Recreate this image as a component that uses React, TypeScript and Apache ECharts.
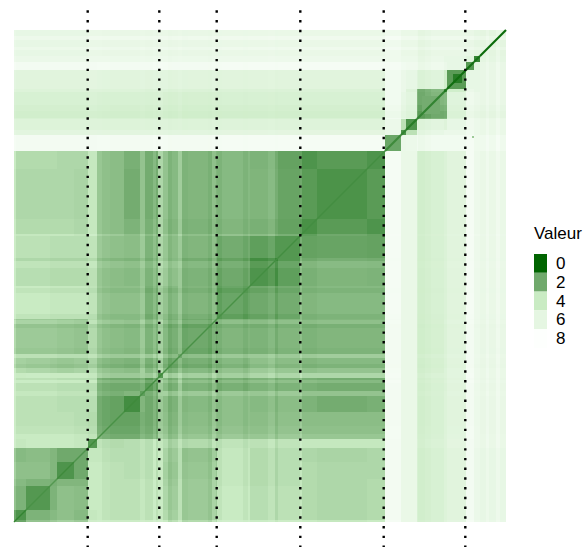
import React, { useEffect, useRef } from "react";
import * as echarts from "echarts";

// Group edges along the ordered rank axis of the symmetric matrix
const edges = [0,12,36,43,60,74,83,110,126,131,144,149,164,168,203,236,264,286,303,353,371,387,392,403,430,433,452,460,466,492];

// Lower triangle of the symmetric matrix, by group
const lowerTriangle = [
  [1.4],
  [2.3,1.5],
  [2.5,2.3,2.2],
  [2.7,2.7,2.4,1.4],
  [2.5,2.6,2.4,2.0,2.0],
  [3.9,4.0,4.0,4.0,3.9,1.5],
  [3.7,3.7,3.7,3.7,3.6,3.5,1.8],
  [3.7,3.7,3.7,3.6,3.6,3.6,1.8,1.2],
  [3.9,3.9,3.9,3.8,3.8,3.8,2.2,2.4,1.7],
  [3.7,3.7,3.7,3.6,3.6,3.6,2.0,2.0,2.2,1.6],
  [4.0,4.1,4.0,4.0,4.0,3.9,3.0,3.0,3.2,3.0,1.5],
  [3.2,3.1,3.0,2.9,3.0,3.3,2.4,2.3,2.9,2.2,3.2,2.0],
  [3.7,3.7,3.7,3.6,3.6,3.8,3.0,3.0,3.3,3.0,3.6,2.6,2.0],
  [3.0,3.0,3.0,2.9,2.8,3.5,2.6,2.5,3.0,2.3,3.2,2.2,2.7,2.0],
  [4.0,4.0,3.9,3.9,3.9,3.8,2.7,2.7,3.0,2.2,3.2,2.5,3.0,2.4,1.9],
  [3.6,3.6,3.5,3.5,3.5,3.7,2.6,2.5,2.9,2.3,3.4,2.7,3.0,2.3,2.0,1.4],
  [3.7,3.7,3.6,3.6,3.6,3.8,2.7,2.6,3.0,2.3,3.4,2.6,3.0,2.4,2.1,1.7,1.5],
  [3.5,3.5,3.5,3.5,3.4,3.9,2.6,2.3,2.8,2.2,3.4,2.4,3.0,2.3,2.4,2.2,1.8,1.3],
  [3.4,3.4,3.4,3.4,3.3,3.9,2.6,2.1,2.8,2.1,3.4,2.5,3.1,2.4,2.5,2.35,1.85,1.6,1.35],
  [3.5,3.5,3.5,3.4,3.4,3.9,2.6,2.2,2.8,2.1,3.4,2.5,3.1,2.4,2.5,2.3,1.8,1.4,1.6,1.4],
  [7.2,7.2,7.2,7.2,7.2,7.2,7.2,7.2,7.2,7.2,7.3,7.2,7.2,7.2,7.3,7.3,7.3,7.3,7.3,7.3,1.9],
  [5.8,5.8,5.8,5.8,5.8,5.9,5.8,5.8,5.8,5.8,5.9,5.8,5.8,5.8,5.9,5.9,5.9,5.9,5.9,5.9,6.5,1.4],
  [5.4,5.4,5.4,5.4,5.4,5.5,5.4,5.4,5.5,5.4,5.5,5.4,5.5,5.4,5.5,5.5,5.5,5.5,5.5,5.5,6.6,3.7,1.4],
  [5.0,5.0,5.0,5.0,5.0,5.2,5.0,5.0,5.1,5.0,5.2,4.9,5.1,4.9,5.0,5.0,5.0,5.0,5.0,5.0,7.0,6.2,5.8,2.4],
  [5.4,5.4,5.4,5.4,5.4,5.5,5.4,5.4,5.4,5.3,5.4,5.3,5.4,5.3,5.3,5.3,5.3,5.3,5.3,5.3,7.0,6.5,5.5,2.5,1.2],
  [5.7,5.7,5.7,5.7,5.7,5.9,5.7,5.7,5.8,5.7,5.8,5.7,5.8,5.7,5.7,5.7,5.7,5.7,5.7,5.7,7.0,6.5,6.2,5.6,4.5,1.6],
  [7.2,7.2,7.2,7.2,7.2,7.2,7.2,7.2,7.2,7.2,7.3,7.2,7.2,7.2,7.3,7.3,7.3,7.3,7.3,7.3,7.3,7.0,6.9,6.8,6.5,6.2,1.5],
  [6.5,6.5,6.5,6.5,6.5,6.7,6.6,6.6,6.7,6.6,6.7,6.6,6.7,6.6,6.7,6.7,6.7,6.7,6.7,6.7,6.8,6.6,6.6,6.5,6.2,6.2,5.8,1.0],
  [6.2,6.2,6.2,6.2,6.2,6.4,6.3,6.3,6.4,6.3,6.4,6.3,6.4,6.3,6.4,6.4,6.4,6.4,6.4,6.4,6.8,6.4,6.4,6.3,6.3,6.3,6.3,6.0,5.9],
];

// Thin stripes: [rank from, rank to, shift]
const stripes = [
  [0,2,0.5],[83,88,0.3],[88,96,0.1],[139,142,0.4],[149,154,0.3],[154,158,-0.2],
  [168,174,-0.1],[194,198,-0.2],[198,202,0.3],[203,208,-0.2],[229,234,-0.2],
  [254,261,0.2],[261,264,-0.2],[286,288,0.4],[404,411,-0.4],[411,417,-0.2],
  [472,475,0.4],[482,486,0.5],
];

// Local corrections: [x from, x to, y from, y to, value]
const patches = [
  [387,403,0,371,6.4],
  [408,426,408,426,2.1],
  [439,448,439,448,0.7],
  [458,460,384,386,3],
];

// Diagonal values per group
const diagonal = [0.9,1.3,1.5,1.1,1.4,1.1,1.3,1.1,1.3,1.2,1.1,1.3,1.4,1.3,1.3,1.2,1.2,1.2,1.2,1.2,1.1,0.9,0.7,0.9,0.5,0.3,0.3,0.4,0.2];

const dottedRanks = [73.7, 145.3, 202.7, 286.3, 369.7, 451.3];
const legendTitle = "Valeur";
const legendValues = [0, 2, 4, 6, 8];
const legendColors = ["#006400", "#70A96C", "#C9EBC3", "#E5F6E2", "#FDFFFD"];

const groupOf = (r: number) => {
  let g = 0;
  while (g < edges.length - 2 && r >= edges[g + 1]) g++;
  return g;
};
const shiftOf = (r: number) => {
  const s = stripes.find((t) => r >= t[0] && r < t[1]);
  return s ? s[2] : 0;
};

export default function App() {
  const ref = useRef<HTMLDivElement>(null);
  useEffect(() => {
    const chart = echarts.init(ref.current!, null, { renderer: "svg" });
    const cuts = Array.from(new Set([...edges, ...stripes.flatMap((s) => [s[0], s[1]])])).sort((a, b) => a - b);
    const cells: number[][] = [];
    for (let i = 0; i < cuts.length - 1; i++) {
      for (let j = 0; j < cuts.length - 1; j++) {
        const gi = groupOf(cuts[i]);
        const gj = groupOf(cuts[j]);
        const base = gi >= gj ? lowerTriangle[gi][gj] : lowerTriangle[gj][gi];
        const wi = cuts[i] < 371 && cuts[j] >= 371 ? 0.3 : 1;
        const wj = cuts[j] < 371 && cuts[i] >= 371 ? 0.3 : 1;
        const v = base + wi * shiftOf(cuts[i]) + wj * shiftOf(cuts[j]);
        cells.push([cuts[j], cuts[j + 1], cuts[i], cuts[i + 1], Math.max(0, Math.min(8, v))]);
      }
    }
    const diag = diagonal.map((v, i) => [edges[i], edges[i + 1], edges[i], edges[i + 1], v]);
    const rectItem = (_: any, api: any) => {
      const a = api.coord([api.value(0), api.value(2)]);
      const b = api.coord([api.value(1), api.value(3)]);
      return {
        type: "rect",
        shape: { x: a[0], y: b[1], width: b[0] - a[0], height: a[1] - b[1] },
        style: { fill: api.visual("color"), stroke: null },
      };
    };
    chart.setOption({
      animation: false,
      grid: { left: 14, top: 30, width: 492, height: 492 },
      xAxis: { type: "value", min: 0, max: 492, show: false },
      yAxis: { type: "value", min: 0, max: 492, show: false },
      visualMap: {
        show: false,
        type: "continuous",
        min: 0,
        max: 8,
        dimension: 4,
        seriesIndex: [0, 1, 2],
        inRange: { color: legendColors },
      },
      series: [
        { type: "custom", silent: true, data: cells, renderItem: rectItem },
        { type: "custom", silent: true, data: patches, renderItem: rectItem },
        {
          type: "custom",
          silent: true,
          data: diag,
          renderItem: (_: any, api: any) => {
            const a = api.coord([api.value(0), api.value(2)]);
            const b = api.coord([api.value(1), api.value(3)]);
            return {
              type: "line",
              shape: { x1: a[0], y1: a[1], x2: b[0], y2: b[1] },
              style: { stroke: api.visual("color"), lineWidth: api.value(0) >= 371 ? 2.2 : 1.4 },
            };
          },
        },
        {
          type: "custom",
          silent: true,
          z: 5,
          data: dottedRanks.map((r) => [r, 511.7, -25]),
          renderItem: (_: any, api: any) => {
            const a = api.coord([api.value(0), api.value(1)]);
            const b = api.coord([api.value(0), api.value(2)]);
            return {
              type: "line",
              shape: { x1: a[0], y1: a[1], x2: b[0], y2: b[1] },
              style: { stroke: "#000", lineWidth: 2.4, lineDash: [2.4, 7.33] },
            };
          },
        },
      ],
      graphic: [
        {
          type: "text",
          x: 534,
          y: 233,
          style: { text: legendTitle, fill: "#000", font: '17px "Liberation Sans"', textVerticalAlign: "middle" },
        },
        ...legendValues.flatMap((v, i) => [
          {
            type: "rect",
            shape: { x: 534, y: 254 + i * 18.8, width: 13, height: 18.8 },
            style: { fill: legendColors[i] },
          },
          {
            type: "text",
            x: 556,
            y: 263.5 + i * 18.8,
            style: { text: String(v), fill: "#000", font: '17px "Liberation Sans"', textVerticalAlign: "middle" },
          },
        ]),
      ],
    });
    return () => chart.dispose();
  }, []);
  return <div ref={ref} style={{ position: "absolute", left: 0, top: 0, width: 587, height: 548 }} />;
}
